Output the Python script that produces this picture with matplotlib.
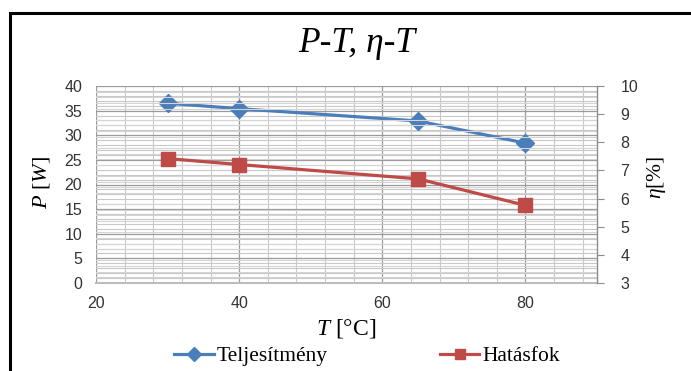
import matplotlib
matplotlib.use("Agg")
import matplotlib.pyplot as plt
from matplotlib.ticker import MultipleLocator
from matplotlib.patches import Rectangle

# data
temp = [30, 40, 65, 80]
power = [36.5, 35.4, 32.9, 28.4]
eff = [7.42, 7.21, 6.70, 5.76]
series_names = ["Teljesítmény", "Hatásfok"]

BLUE = "#4a7ebb"
RED = "#be4b48"
SANS = "Liberation Sans"
SERIF = "Liberation Serif"

plt.rcParams["mathtext.fontset"] = "custom"
plt.rcParams["mathtext.it"] = "Liberation Serif:italic"
plt.rcParams["mathtext.rm"] = "Liberation Serif"

fig = plt.figure(figsize=(6.91, 3.71), dpi=100)
ax = fig.add_axes([96 / 691, 1 - 283 / 371, (597 - 96) / 691, (283 - 86) / 371])
ax2 = ax.twinx()

# frame around the chart (cut off on the right and bottom like the screenshot)
fig.patches.append(Rectangle((10 / 691, -0.1), 1.0, 1 - 13 / 371 + 0.1,
                             transform=fig.transFigure, fill=False,
                             edgecolor="black", lw=2.2))

ax.set_xlim(20, 90)
ax.set_ylim(0, 40)
ax2.set_ylim(3, 10)

ax.xaxis.set_major_locator(MultipleLocator(20))
ax.xaxis.set_minor_locator(MultipleLocator(4))
ax.yaxis.set_major_locator(MultipleLocator(5))
ax.yaxis.set_minor_locator(MultipleLocator(1))
ax2.yaxis.set_major_locator(MultipleLocator(1))
ax2.yaxis.set_minor_locator(MultipleLocator(0.2))

ax.grid(which="major", color="#9a9a9a", lw=0.9)
ax.grid(which="minor", color="#c8c8c8", lw=0.8)
ax2.grid(which="minor", axis="y", color="#d4d4d4", lw=0.8)
ax.set_axisbelow(True)
ax2.set_axisbelow(True)

for a in (ax, ax2):
    for s in a.spines.values():
        s.set_visible(False)
ax.spines["bottom"].set_visible(True)
ax.spines["bottom"].set_color("#bdbdbd")
ax.spines["bottom"].set_linewidth(1.5)
ax2.spines["right"].set_visible(True)
ax2.spines["right"].set_color("#8c8c8c")
ax2.spines["right"].set_linewidth(1.0)

ax.tick_params(which="both", length=0, labelsize=11.5, colors="#333333", pad=9)
ax.tick_params(axis="y", pad=10)
ax2.tick_params(axis="y", which="major", length=5, color="#8c8c8c",
                labelsize=11.5, labelcolor="#333333", pad=12)
ax2.tick_params(axis="y", which="minor", length=0)
for lab in ax.get_xticklabels() + ax.get_yticklabels() + ax2.get_yticklabels():
    lab.set_family(SANS)

l1, = ax.plot(temp, power, color=BLUE, lw=2.3, marker="D", markersize=9.5,
              label=series_names[0], zorder=5)
l2, = ax2.plot(temp, eff, color=RED, lw=2.3, marker="s", markersize=10.5,
               label=series_names[1], zorder=5)

fig.text(357 / 691, 1 - 43 / 371, "P-T, η-T", family=SERIF, style="italic",
         fontsize=25.5, ha="center", va="center")
fig.text(42 / 691, 1 - 183 / 371, "$P$ [$W$]", rotation=90,
         family=SERIF, fontsize=16, ha="center", va="center")
fig.text(657 / 691, 1 - 177 / 371, "$η$[%]", rotation=90,
         family=SERIF, fontsize=15.5, ha="center", va="center")
fig.text(346 / 691, 1 - 328 / 371, "$T$ [°C]", family=SERIF, fontsize=17,
         ha="center", va="center")

leg = fig.legend(handles=[l1, l2], loc="center", ncol=2,
                 bbox_to_anchor=(367 / 691, 1 - 356 / 371), frameon=False,
                 prop={"family": SERIF, "size": 15.5}, handlelength=1.85,
                 handletextpad=0.14, columnspacing=5.2, markerscale=0.75)

fig.savefig("out.png", dpi=100)
